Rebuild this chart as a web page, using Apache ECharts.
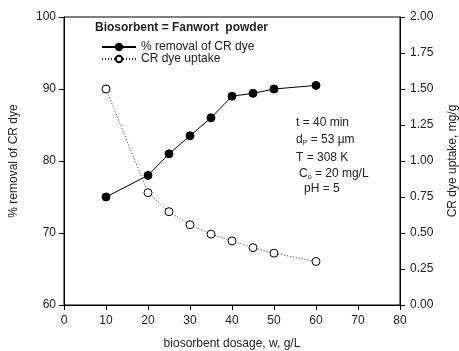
<!DOCTYPE html>
<html>
<head>
<meta charset="utf-8">
<script src="https://cdn.jsdelivr.net/npm/echarts@6/dist/echarts.min.js"></script>
<style>
  html, body { margin: 0; padding: 0; background: #fff; }
  #chart { width: 459px; height: 351px; }
</style>
</head>
<body>
<div id="chart"></div>
<script>
// Biosorbent dosage (g/L)
const dosage = [10, 20, 25, 30, 35, 40, 45, 50, 60];
// % removal of CR dye (left axis)
const removal = [75, 78, 81, 83.5, 86, 89, 89.4, 90, 90.5];
// CR dye uptake, mg/g (right axis)
const uptake = [1.5, 0.78, 0.648, 0.557, 0.492, 0.445, 0.398, 0.36, 0.302];

const FONT = '"Liberation Sans", Arial, sans-serif';
const TXT = '#222';

const chart = echarts.init(document.getElementById('chart'));

const axisCommon = {
  axisLine: { show: true, lineStyle: { color: '#000', width: 1 } },
  axisTick: { show: true, inside: false, length: 5, lineStyle: { color: '#000' } },
  splitLine: { show: false },
  axisLabel: { color: TXT, fontFamily: FONT, fontSize: 12 },
  nameTextStyle: { color: TXT, fontFamily: FONT, fontSize: 12 }
};

chart.setOption({
  animation: false,
  backgroundColor: '#fff',
  grid: {
    left: 64, right: 59, top: 17, bottom: 46,
    containLabel: false, outerBoundsMode: 'none',
    show: true, borderColor: '#000', borderWidth: 1
  },
  legend: {
    orient: 'vertical',
    left: 96,
    top: 36,
    itemWidth: 34,
    itemHeight: 8,
    itemGap: 0,
    textStyle: { color: TXT, fontFamily: FONT, fontSize: 12, lineHeight: 11 },
    data: ['% removal of CR dye', 'CR dye uptake']
  },
  xAxis: Object.assign({}, axisCommon, {
    type: 'value', min: 0, max: 80, interval: 10,
    name: 'biosorbent dosage, w, g/L', nameLocation: 'middle', nameGap: 33,
    axisLabel: Object.assign({}, axisCommon.axisLabel, { margin: 10 })
  }),
  yAxis: [
    Object.assign({}, axisCommon, {
      type: 'value', min: 60, max: 100, interval: 10, position: 'left',
      name: '% removal of CR dye', nameLocation: 'middle', nameGap: 44,
      axisLabel: Object.assign({}, axisCommon.axisLabel, { margin: 8 })
    }),
    Object.assign({}, axisCommon, {
      type: 'value', min: 0, max: 2, interval: 0.25, position: 'right',
      name: 'CR dye uptake, mg/g', nameLocation: 'middle', nameGap: 47,
      axisLabel: Object.assign({}, axisCommon.axisLabel, {
        margin: 10, formatter: v => v.toFixed(2)
      })
    })
  ],
  series: [
    {
      name: '% removal of CR dye',
      type: 'line',
      yAxisIndex: 0,
      data: dosage.map((d, i) => [d, removal[i]]),
      symbol: 'circle',
      symbolSize: 8,
      lineStyle: { color: '#000', width: 1 },
      itemStyle: { color: '#000', borderColor: '#000', borderWidth: 1 },
      z: 3
    },
    {
      name: 'CR dye uptake',
      type: 'line',
      yAxisIndex: 1,
      data: dosage.map((d, i) => [d, uptake[i]]),
      symbol: 'circle',
      symbolSize: 8,
      lineStyle: { color: '#333', width: 1, type: [1, 2] },
      itemStyle: { color: '#fff', borderColor: '#000', borderWidth: 1 },
      z: 2
    }
  ],
  graphic: [
    {
      type: 'text', left: 95, top: 22,
      style: { text: 'Biosorbent = Fanwort  powder', fill: TXT, font: 'bold 12px ' + FONT }
    },
    {
      type: 'group', left: 296, top: 117,
      children: [
        { type: 'text', x: 0, y: 0, style: { text: 't = 40 min', fill: TXT, font: '12px ' + FONT } },
        { type: 'text', x: 0, y: 16, style: {
            text: '{b|d}{s|P}{b| = 53 µm}', fill: TXT,
            rich: { b: { font: '12px ' + FONT, fill: TXT }, s: { font: '7px ' + FONT, fill: TXT, verticalAlign: 'bottom', padding: [7, 0, 0, 0] } }
        } },
        { type: 'text', x: 0, y: 35, style: { text: 'T = 308 K', fill: TXT, font: '12px ' + FONT } },
        { type: 'text', x: 3, y: 50, style: {
            text: '{b|C}{s|o}{b| = 20 mg/L}', fill: TXT,
            rich: { b: { font: '12px ' + FONT, fill: TXT }, s: { font: '7px ' + FONT, fill: TXT, verticalAlign: 'bottom', padding: [7, 0, 0, 0] } }
        } },
        { type: 'text', x: 8, y: 66, style: { text: 'pH = 5', fill: TXT, font: '12px ' + FONT } }
      ]
    }
  ]
});
</script>
</body>
</html>
